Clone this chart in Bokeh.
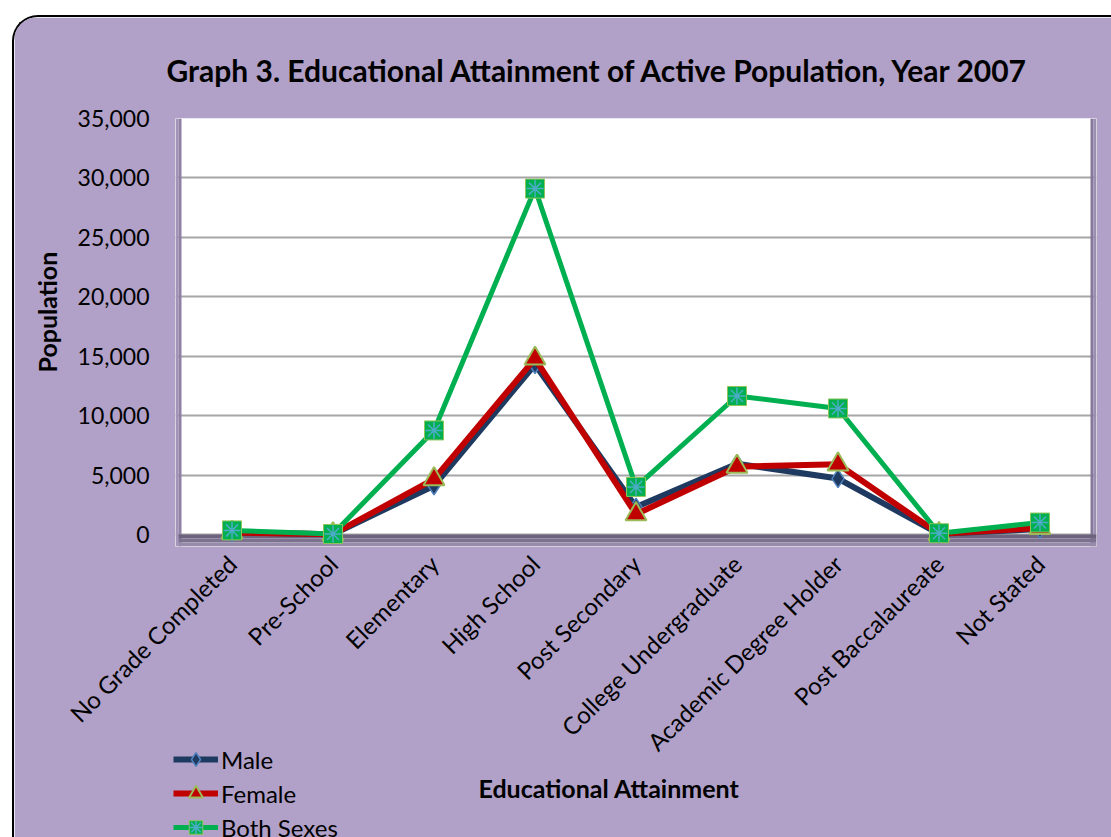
from bokeh.plotting import figure
from bokeh.layouts import column
from bokeh.models import (ColumnDataSource, FactorRange, Range1d, Legend, LegendItem,
                          NumeralTickFormatter, FixedTicker, Title, BoxAnnotation)
from bokeh.embed import file_html
from bokeh.resources import INLINE
import math

categories = ["No Grade Completed", "Pre-School", "Elementary", "High School",
              "Post Secondary", "College Undergraduate", "Academic Degree Holder",
              "Post Baccalaureate", "Not Stated"]
male = [180, 20, 4100, 14300, 2300, 5950, 4700, 50, 450]
female = [160, 20, 4650, 14800, 1700, 5700, 5900, 50, 550]
both = [340, 40, 8750, 29100, 4000, 11650, 10600, 100, 1000]
y_ticks = [0, 5000, 10000, 15000, 20000, 25000, 30000, 35000]

FONT = "Lato"
PURPLE = "#B1A0C7"
NAVY = "#1F3A60"
RED = "#C00000"
GREEN = "#00B050"

PAD = 0.0595         # factor-units of shadow margin left/right of the plot area
Y0 = -1015           # shadow strip below the zero line

src = ColumnDataSource(dict(cat=categories, male=male, female=female, both=both))

p = figure(x_range=FactorRange(*categories, range_padding=PAD, range_padding_units="absolute"),
           y_range=Range1d(Y0, 35000),
           width=1099, height=822, output_backend="svg", toolbar_location=None,
           min_border_left=161, min_border_right=17, min_border_top=101, min_border_bottom=293,
           background_fill_color="white", border_fill_color=PURPLE,
           outline_line_color=None,
           styles={"margin": "15px 0px 0px 12px",
                   "border-top": "2px solid black", "border-left": "2px solid black",
                   "border-right": "none", "border-bottom": "none",
                   "border-top-left-radius": "26px", "overflow": "hidden"})

p.title.text = "Graph 3. Educational Attainment of Active Population, Year 2007"
p.title.text_font = FONT
p.title.text_font_size = "30px"
p.title.text_font_style = "bold"
p.title.text_color = "black"
p.title.align = "left"
p.title.offset = -9
p.title.standoff = 62

# drop shadow around the plot area (decorative)
n = len(categories)
for kw, col in [
    (dict(right=-PAD / 2), "#A394B9"),
    (dict(left=-PAD / 2, right=0), "#8E81A4"),
    (dict(left=n, right=n + PAD / 2), "#83789A"),
    (dict(left=n + PAD / 2), "#9B8FB0"),
    (dict(left=-PAD / 2, top=0, bottom=Y0 / 3), "#6D637F"),
    (dict(left=-PAD / 2, top=Y0 / 3, bottom=2 * Y0 / 3), "#7C7290"),
    (dict(left=-PAD / 2, top=2 * Y0 / 3), "#978BAC"),
]:
    p.add_layout(BoxAnnotation(fill_color=col, fill_alpha=1, line_color=None,
                               level="underlay", **kw))

# axes
p.yaxis.ticker = FixedTicker(ticks=y_ticks)
p.yaxis.formatter = NumeralTickFormatter(format="0,0")
p.yaxis.axis_line_color = None
p.yaxis.major_tick_line_color = None
p.yaxis.minor_tick_line_color = None
p.yaxis.major_label_text_font = FONT
p.yaxis.major_label_text_font_size = "23px"
p.yaxis.major_label_text_color = "black"
p.yaxis.major_label_standoff = 20

p.xaxis.axis_line_color = None
p.xaxis.major_tick_line_color = None
p.xaxis.minor_tick_line_color = None
p.xaxis.major_label_orientation = math.pi / 4
p.xaxis.major_label_text_font = FONT
p.xaxis.major_label_text_font_size = "24px"
p.xaxis.major_label_text_color = "black"
p.xaxis.major_label_standoff = 7

p.add_layout(Title(text="Population", align="left", offset=174, standoff=26,
                   text_font=FONT, text_font_size="25px", text_font_style="bold",
                   text_color="black"), "left")
p.add_layout(Title(text="Educational Attainment", align="left", offset=303, standoff=3,
                   text_font=FONT, text_font_size="25px", text_font_style="bold",
                   text_color="black"), "below")

p.xgrid.grid_line_color = None
p.ygrid.grid_line_color = "#A6A6A6"
p.ygrid.grid_line_width = 2


def add_series(fig):
    r = {}
    r["m_line"] = fig.line("cat", "male", source=src, line_color=NAVY, line_width=6)
    r["m_mark"] = fig.scatter("cat", "male", source=src, marker="diamond", size=18,
                              fill_color=NAVY, line_color="#4F81BD", line_width=1.5)
    r["f_line"] = fig.line("cat", "female", source=src, line_color=RED, line_width=6)
    r["f_mark"] = fig.scatter("cat", "female", source=src, marker="triangle", size=21,
                              fill_color=RED, line_color="#9BBB59", line_width=2)
    r["b_line"] = fig.line("cat", "both", source=src, line_color=GREEN, line_width=5)
    r["b_mark"] = fig.scatter("cat", "both", source=src, marker="square", size=19,
                              fill_color=GREEN, line_color="#8FC55A", line_width=1)
    r["b_ast"] = fig.scatter("cat", "both", source=src, marker="asterisk", size=17,
                             line_color="#4BACC6", line_width=1.5)
    return r


add_series(p)

# legend on a transparent overlay figure so it can sit outside the plot frame
leg = figure(x_range=FactorRange(*categories), y_range=Range1d(1e6, 1e6 + 1),
             width=460, height=95, output_backend="svg", toolbar_location=None,
             title=None, x_axis_location=None, y_axis_location=None,
             min_border=0, min_border_left=0, min_border_right=0,
             min_border_top=0, min_border_bottom=0,
             outline_line_color=None, background_fill_alpha=0, border_fill_alpha=0,
             styles={"margin-top": "-95px"})
leg.grid.visible = False
lr = add_series(leg)
legend = Legend(items=[
    LegendItem(label="Male", renderers=[lr["m_line"], lr["m_mark"]]),
    LegendItem(label="Female", renderers=[lr["f_line"], lr["f_mark"]]),
    LegendItem(label="Both Sexes", renderers=[lr["b_line"], lr["b_mark"], lr["b_ast"]]),
], location=(12, -7), orientation="vertical",
    background_fill_alpha=0, border_line_color=None, margin=0,
    glyph_width=45, glyph_height=34, label_height=34, spacing=0, padding=0,
    label_standoff=3, label_text_font=FONT, label_text_font_size="24px",
    label_text_color="black")
leg.add_layout(legend, "center")

layout = column(p, leg, spacing=0)
open("out.html", "w").write(file_html(layout, INLINE))
